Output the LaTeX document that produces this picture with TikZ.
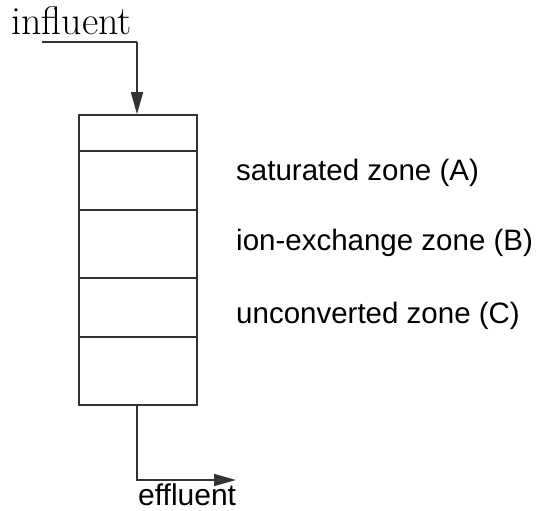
\documentclass[tikz,border=0pt]{standalone}
\usepackage{fontspec}
\setsansfont{Liberation Sans}
\usetikzlibrary{arrows.meta}
\begin{document}
\begin{tikzpicture}[x=1pt,y=-1pt,
  line/.style={line width=1.6pt, draw=black!80},
  flow/.style={line, -{Triangle[length=22pt,width=12pt]}},
  zonelabel/.style={anchor=base west, inner sep=0pt, font=\fontsize{29.5}{34}\sffamily},
  inlabel/.style={anchor=base west, inner sep=0pt, font=\fontsize{40}{44}\selectfont},
]
\useasboundingbox (0,0) rectangle (541,511);

% column body
\node[line, draw, rectangle, minimum width=118pt, minimum height=290pt, inner sep=0pt] (col) at (138,260) {};
\coordinate (z1) at (79,151);  \coordinate (z1e) at (197,151);
\coordinate (z2) at (79,210);  \coordinate (z2e) at (197,210);
\coordinate (z3) at (79,278);  \coordinate (z3e) at (197,278);
\coordinate (z4) at (79,337);  \coordinate (z4e) at (197,337);
\draw[line] (z1) -- (z1e);
\draw[line] (z2) -- (z2e);
\draw[line] (z3) -- (z3e);
\draw[line] (z4) -- (z4e);

% influent
\node[inlabel] (inf) at (11,35) {influent};
\coordinate (infL) at (42,42);
\coordinate (infR) at (137,42);
\draw[line] (infL) -- (infR);
\draw[flow] (infR) -- (col.north -| infR);

% effluent
\coordinate (effTop) at (137,405);
\coordinate (effCorner) at (137,480);
\coordinate (effEnd) at (236,480);
\draw[flow] (effTop) -- (effCorner) -- (effEnd);
\node[zonelabel, font=\fontsize{30}{34}\sffamily] (eff) at (138,505) {effluent};

% zone labels
\node[zonelabel] (la) at (236,180) {saturated zone (A)};
\node[zonelabel] (lb) at (236,250) {ion-exchange zone (B)};
\node[zonelabel] (lc) at (236,323) {unconverted zone (C)};
\end{tikzpicture}
\end{document}
